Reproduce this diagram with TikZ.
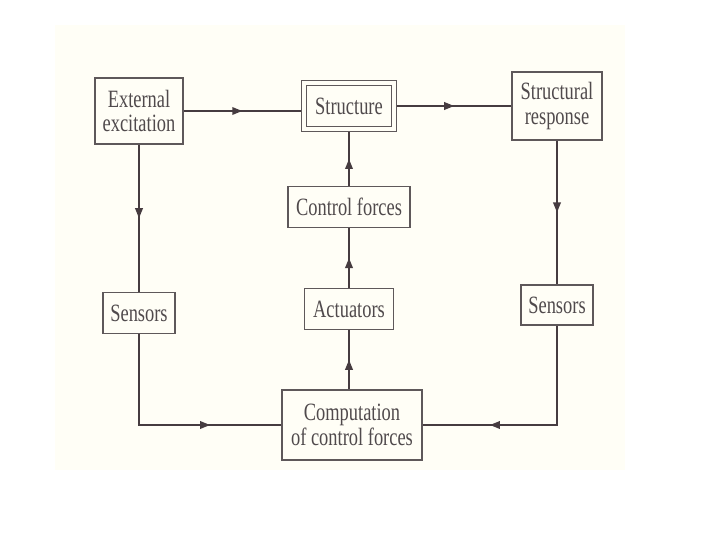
\documentclass[tikz,border=0pt]{standalone}
\usepackage{fontspec}
\setmainfont[FakeStretch=0.74]{Liberation Serif}
\usetikzlibrary{arrows.meta, decorations.markings, positioning}
\definecolor{inkline}{HTML}{463C40}
\definecolor{inkbox}{HTML}{5E585A}
\definecolor{inktext}{HTML}{504A4C}
\definecolor{paper}{HTML}{FFFEF6}

\tikzset{
  blockbox/.style={draw=inkbox, line width=1.5bp, inner sep=2bp},
  flowline/.style={draw=inkline, line width=1.8bp},
  midtip/.style={postaction={decorate},
    decoration={markings, mark=at position 0.5 with {\arrow{Triangle[length=10bp, width=7.5bp]}}}}
}

\begin{document}
\begin{tikzpicture}[
  x=1bp, y=-1bp,
  every node/.style={font=\fontsize{25}{25}\selectfont, text=inktext, align=center}
]
\useasboundingbox (0,0) rectangle (720,540);
\fill[paper] (55,25) rectangle (625,470);

% top row
\node[blockbox, minimum width=88bp, minimum height=66bp] (ext) at (139,111) {External\\excitation};
\node[blockbox, double=paper, double distance=3.5bp, outer sep=3.2bp,
      minimum width=90bp, minimum height=46bp] (struct) at (349,106) {Structure};
\node[blockbox, minimum width=90bp, minimum height=68bp] (resp) at (557,106) {Structural\\response};

% middle column
\node[blockbox, minimum width=122bp, minimum height=41bp] (ctrl) at (349,207) {Control forces};
\node[blockbox, minimum width=89bp, minimum height=41bp] (act) at (349,309) {Actuators};
\node[blockbox, minimum width=140bp, minimum height=70bp] (comp) at (352,425) {Computation\\of control forces};

% sensors
\node[blockbox, minimum width=72bp, minimum height=41bp] (sensL) at (139,313) {Sensors};
\node[blockbox, minimum width=72bp, minimum height=40bp] (sensR) at (557,305) {Sensors};

% connectors
\draw[flowline, midtip] (ext.east) -- (ext.east -| struct.west);
\draw[flowline, midtip] (struct.east) -- (resp.west);
\draw[flowline, midtip] (ext.south) -- (sensL.north);
\draw[flowline, midtip] (resp.south) -- (sensR.north);

\draw[flowline] (sensL.south) |- (comp.west);
\draw[flowline, midtip] (sensL.south |- comp.west) -- (comp.west);
\draw[flowline] (sensR.south) |- (comp.east);
\draw[flowline, midtip] (sensR.south |- comp.east) -- (comp.east);

\draw[flowline, midtip] (comp.north -| act.south) -- (act.south);
\draw[flowline, midtip] (act.north) -- (ctrl.south);
\draw[flowline, midtip] (ctrl.north) -- (struct.south);
\end{tikzpicture}
\end{document}
